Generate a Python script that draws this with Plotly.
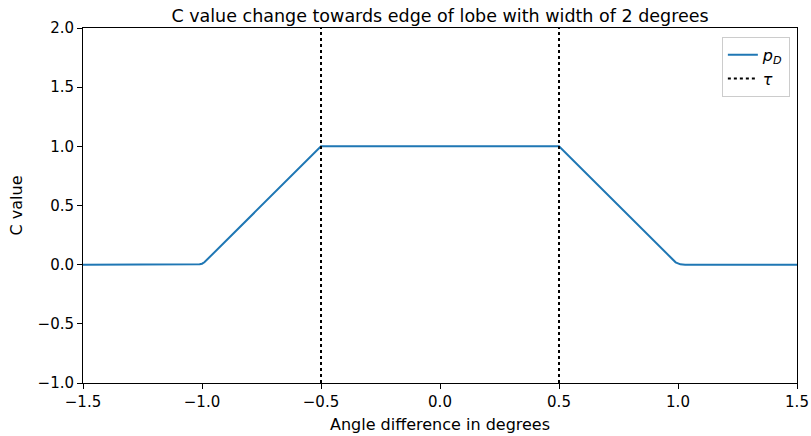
import plotly.graph_objects as go

# Data
x_vals = [-1.5, -1.03, -1.01, -1.0, -0.99, -0.5, 0.5, 0.99, 1.0, 1.01, 1.03, 1.5]
y_vals = [0.0, 0.0, 0.003, 0.008, 0.02, 1.0, 1.0, 0.02, 0.008, 0.003, 0.0, 0.0]
tau_positions = [-0.5, 0.5]
tau_y = [-1.0, 2.0]
x_ticks = [-1.5, -1.0, -0.5, 0.0, 0.5, 1.0, 1.5]
y_ticks = [-1.0, -0.5, 0.0, 0.5, 1.0, 1.5, 2.0]

def fmt(v):
    s = f"{v:.1f}"
    return s.replace("-", "\u2212")

FONT = "DejaVu Sans, Verdana, sans-serif"

fig = go.Figure()
fig.add_trace(go.Scatter(x=x_vals, y=y_vals, mode="lines",
                         line=dict(color="#1f77b4", width=2),
                         name="<i>p</i><sub><i>D</i></sub>"))
for i, t in enumerate(tau_positions):
    fig.add_trace(go.Scatter(x=[t, t], y=tau_y, mode="lines",
                             line=dict(color="black", width=2, dash="dot"),
                             name="<i>τ</i>", showlegend=(i == 0)))

axis_common = dict(showgrid=False, zeroline=False, showline=True, mirror=True,
                   linecolor="black", linewidth=1, ticks="outside", ticklen=5,
                   tickwidth=1, tickcolor="black",
                   tickfont=dict(family=FONT, size=15, color="black"))

fig.update_xaxes(range=[-1.5, 1.5], tickvals=x_ticks, ticktext=[fmt(v) for v in x_ticks],
                 title=dict(text="Angle difference in degrees",
                            font=dict(family=FONT, size=16, color="black"), standoff=8),
                 **axis_common)
fig.update_yaxes(range=[-1.0, 2.0], tickvals=y_ticks, ticktext=[fmt(v) for v in y_ticks],
                 title=dict(text="C value",
                            font=dict(family=FONT, size=16, color="black"), standoff=10),
                 **axis_common)

fig.update_layout(
    width=811, height=436,
    margin=dict(l=83, r=14, t=28, b=53, autoexpand=False),
    paper_bgcolor="white", plot_bgcolor="white",
    title=dict(text="C value change towards edge of lobe with width of 2 degrees",
               font=dict(family=FONT, size=17.5, color="black"),
               x=0.5, xref="paper", xanchor="center", y=1, yref="paper", yanchor="bottom",
               pad=dict(b=6)),
    legend=dict(x=0.99, y=0.975, xanchor="right", yanchor="top",
                bgcolor="rgba(255,255,255,0.8)", bordercolor="#cccccc", borderwidth=1,
                tracegroupgap=4,
                font=dict(family=FONT, size=16, color="black")),
    showlegend=True,
)

fig.write_html("out.html")
